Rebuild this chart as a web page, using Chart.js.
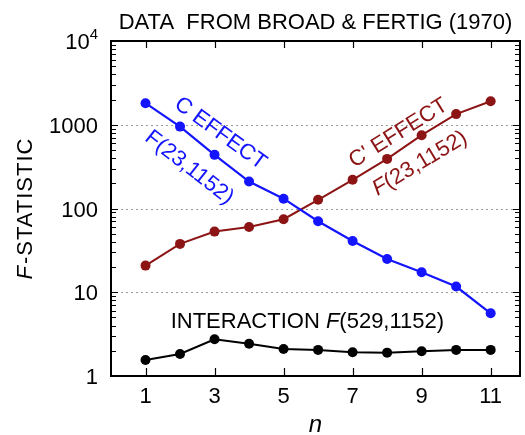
<!DOCTYPE html>
<html>
<head>
<meta charset="utf-8">
<script src="https://cdn.jsdelivr.net/npm/chart.js@4.4.1/dist/chart.umd.min.js"></script>
<style>
  html, body { margin: 0; padding: 0; background: #fff; }
  canvas { display: block; }
</style>
</head>
<body>
<canvas id="grafico" width="525" height="435"></canvas>
<script>
var nValores = [1, 2, 3, 4, 5, 6, 7, 8, 9, 10, 11];
var efectoC = [1810, 950, 437, 210, 131, 70.5, 41, 25, 17.3, 11.7, 5.6];
var efectoCprima = [20.8, 37.8, 53, 60, 74.5, 127, 220, 391, 751, 1340, 1910];
var interaccion = [1.55, 1.83, 2.74, 2.43, 2.10, 2.05, 1.92, 1.90, 1.97, 2.05, 2.05];
var ticksX = [1, 3, 5, 7, 9, 11];
var ticksY = [1, 10, 100, 1000, 10000];

var AZUL = '#1414ff';
var ROJO = '#8c1414';
var NEGRO = '#000000';
var FUENTE = '"Liberation Sans", Arial, sans-serif';

function puntos(valores) {
    var aux = [];
    for (var i = 0; i < nValores.length; i++) {
        aux.push({ x: nValores[i], y: valores[i] });
    }
    return aux;
}

function serie(valores, color, grosor) {
    return {
        data: puntos(valores),
        borderColor: color,
        backgroundColor: color,
        pointBackgroundColor: color,
        pointBorderColor: color,
        pointRadius: 5,
        pointBorderWidth: 0,
        borderWidth: grosor,
        tension: 0
    };
}

// texto rotado centrado en (x, y); partes = [[texto, cursiva], ...]
function textoPartes(ctx, partes, x, y, angulo, color) {
    ctx.save();
    ctx.translate(x, y);
    ctx.rotate(angulo * Math.PI / 180);
    ctx.fillStyle = color;
    ctx.textBaseline = 'alphabetic';
    ctx.textAlign = 'left';
    var total = 0;
    var anchos = [];
    for (var i = 0; i < partes.length; i++) {
        ctx.font = (partes[i][1] ? 'italic ' : '') + '22px ' + FUENTE;
        anchos.push(ctx.measureText(partes[i][0]).width);
        total += anchos[i];
    }
    var px = -total / 2;
    for (var i = 0; i < partes.length; i++) {
        ctx.font = (partes[i][1] ? 'italic ' : '') + '22px ' + FUENTE;
        ctx.fillText(partes[i][0], px, 8);
        px += anchos[i];
    }
    ctx.restore();
}

var marco = {
    id: 'marco',
    beforeDatasetsDraw: function(chart) {
        var ctx = chart.ctx;
        var a = chart.chartArea;
        var ey = chart.scales.y;
        ctx.save();
        ctx.strokeStyle = '#9a9a9a';
        ctx.lineWidth = 1;
        ctx.setLineDash([2, 3]);
        [10, 100, 1000].forEach(function(v) {
            var y = Math.round(ey.getPixelForValue(v)) + 0.5;
            ctx.beginPath();
            ctx.moveTo(a.left, y);
            ctx.lineTo(a.right, y);
            ctx.stroke();
        });
        ctx.restore();
    },
    afterDatasetsDraw: function(chart) {
        var ctx = chart.ctx;
        var a = chart.chartArea;
        var ex = chart.scales.x;
        var ey = chart.scales.y;
        ctx.save();
        ctx.strokeStyle = '#000';
        ctx.lineWidth = 2;
        ctx.strokeRect(a.left, a.top, a.right - a.left, a.bottom - a.top);

        // marcas menores y mayores del eje log
        ctx.lineWidth = 1.2;
        ctx.beginPath();
        for (var d = 1; d < 10000; d *= 10) {
            for (var k = 1; k <= 9; k++) {
                var y = Math.round(ey.getPixelForValue(d * k)) + 0.5;
                var largo = k == 1 ? 7 : 5;
                ctx.moveTo(a.left, y); ctx.lineTo(a.left + largo, y);
                ctx.moveTo(a.right, y); ctx.lineTo(a.right - largo, y);
            }
        }
        ticksX.forEach(function(v) {
            var x = Math.round(ex.getPixelForValue(v)) + 0.5;
            ctx.moveTo(x, a.bottom); ctx.lineTo(x, a.bottom - 8);
            ctx.moveTo(x, a.top); ctx.lineTo(x, a.top + 7);
        });
        ctx.stroke();

        // etiquetas
        ctx.fillStyle = '#000';
        ctx.font = '22px ' + FUENTE;
        ctx.textBaseline = 'alphabetic';
        ctx.textAlign = 'center';
        ticksX.forEach(function(v) {
            ctx.fillText(String(v), ex.getPixelForValue(v), 403);
        });
        ctx.textAlign = 'right';
        ticksY.forEach(function(v) {
            var y = ey.getPixelForValue(v) + 8;
            if (v == 10000) {
                ctx.font = '15px ' + FUENTE;
                var w = ctx.measureText('4').width;
                ctx.fillText('4', 98, y - 10);
                ctx.font = '22px ' + FUENTE;
                ctx.fillText('10', 98 - w, y);
            } else {
                ctx.fillText(String(v), 98, y);
            }
        });

        // titulo
        ctx.textAlign = 'center';
        ctx.fillText('DATA  FROM BROAD & FERTIG (1970)', (a.left + a.right) / 2, 29);

        // titulo eje x
        ctx.font = 'italic 24px ' + FUENTE;
        ctx.fillText('n', (a.left + a.right) / 2, 432);

        // titulo eje y
        ctx.save();
        ctx.translate(32, (a.top + a.bottom) / 2);
        ctx.rotate(-Math.PI / 2);
        ctx.textAlign = 'left';
        ctx.font = 'italic 22px ' + FUENTE;
        var wf = ctx.measureText('F').width;
        ctx.font = '22px ' + FUENTE;
        ctx.letterSpacing = '1px';
        var wr = ctx.measureText('-STATISTIC').width;
        var x0 = -(wf + wr + 2) / 2;
        ctx.font = 'italic 22px ' + FUENTE;
        ctx.fillText('F', x0, 0);
        ctx.font = '22px ' + FUENTE;
        ctx.fillText('-STATISTIC', x0 + wf + 2, 0);
        ctx.restore();

        // rotulos de las curvas
        textoPartes(ctx, [['C EFFECT', false]], ex.getPixelForValue(3.2), ey.getPixelForValue(820), 36, AZUL);
        textoPartes(ctx, [['F', false], ['(23,1152)', false]], ex.getPixelForValue(2.3), ey.getPixelForValue(320), 38, AZUL);
        textoPartes(ctx, [["C' EFFECT", false]], ex.getPixelForValue(8.3), ey.getPixelForValue(830), -32, ROJO);
        textoPartes(ctx, [['F', true], ['(23,1152)', false]], ex.getPixelForValue(8.92), ey.getPixelForValue(360), -31, ROJO);
        textoPartes(ctx, [['INTERACTION ', false], ['F', true], ['(529,1152)', false]], ex.getPixelForValue(5.69), ey.getPixelForValue(4.67), 0, NEGRO);
        ctx.restore();
    }
};

var ctx = document.getElementById('grafico').getContext('2d');
var miGrafico = new Chart(ctx, {
    type: 'line',
    data: {
        datasets: [
            serie(efectoC, AZUL, 2.2),
            serie(efectoCprima, ROJO, 2),
            serie(interaccion, NEGRO, 2)
        ]
    },
    options: {
        responsive: false,
        animation: false,
        devicePixelRatio: 1,
        layout: { padding: { left: 111, right: 4, top: 41, bottom: 59 } },
        plugins: { legend: { display: false }, tooltip: { enabled: false } },
        scales: {
            x: { type: 'linear', min: 0, max: 11.85, display: false },
            y: { type: 'logarithmic', min: 1, max: 10000, display: false }
        }
    },
    plugins: [marco]
});
</script>
</body>
</html>
